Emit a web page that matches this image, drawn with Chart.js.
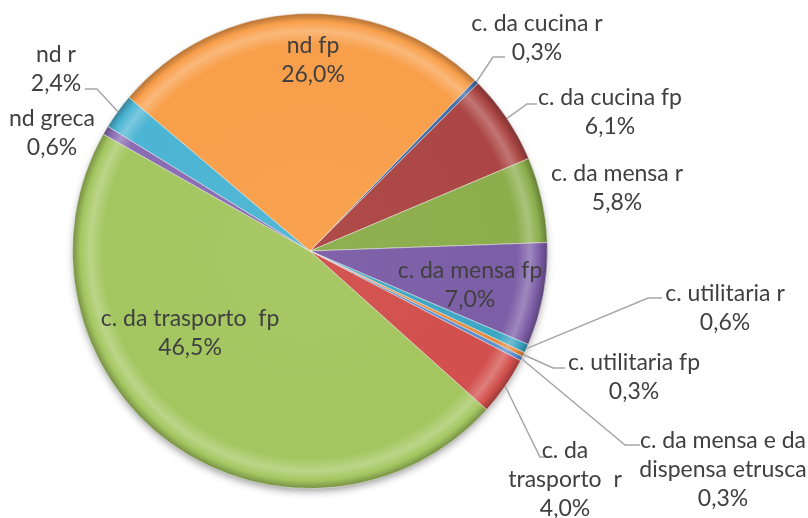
<!DOCTYPE html>
<html>
<head>
<meta charset="utf-8">
<script src="https://cdn.jsdelivr.net/npm/chart.js@4/dist/chart.umd.min.js"></script>
<style>
  html, body { margin: 0; padding: 0; background: #ffffff; }
  #wrap { width: 808px; height: 518px; position: relative; }
</style>
</head>
<body>
<div id="wrap"><canvas id="c" width="808" height="518"></canvas></div>
<script>
// Categories and shares (percent) of the sample, clockwise from the first slice
const categories = [
  'c. da cucina r',
  'c. da cucina fp',
  'c. da mensa r',
  'c. da mensa fp',
  'c. utilitaria r',
  'c. utilitaria fp',
  'c. da mensa e da dispensa etrusca',
  'c. da trasporto  r',
  'c. da trasporto  fp',
  'nd greca',
  'nd r',
  'nd fp'
];
const shares = [0.3, 6.1, 5.8, 7.0, 0.6, 0.3, 0.3, 4.0, 46.5, 0.6, 2.4, 26.0];

// Office-style fill colours for each slice
const sliceColors = [
  '#3f6fae', '#ab4644', '#8cae4c', '#7c5ea6', '#3ea7c4', '#e88a3c',
  '#5b8ccc', '#d2504d', '#a4c660', '#8a6cb3', '#4cb5d3', '#f89f4b'
];

// Where each data label sits, as offsets from the pie centre (px),
// with an optional leader line (bend and end points, also offsets).
const labelLayout = [
  { dx: 227, dy: -213, leader: [[183, -194], [195, -194]] },
  { dx: 300, dy: -139, leader: [[217, -147], [227, -147]] },
  { dx: 307, dy: -63 },
  { dx: 160, dy: 34 },
  { dx: 415, dy: 57, leader: [[338, 47], [352, 47]] },
  { dx: 324, dy: 126, leader: [[243, 117], [255, 117]] },
  { dx: 413, dy: 219, wrap: 200, leader: [[315, 194], [330, 194]] },
  { dx: 255, dy: 229, wrap: 135, leader: [[230, 206], [243, 206]] },
  { dx: -120, dy: 82 },
  { dx: -258, dy: -118 },
  { dx: -254, dy: -182, leader: [[-213, -162], [-225, -162]] },
  { dx: 3, dy: -191 }
];

const FONT = '23px Lato, "Liberation Sans", sans-serif';
const LINE_H = 29;

function formatPct(v) {
  return v.toFixed(1).replace('.', ',') + '%';
}

function shade(hex, amt) {
  const n = parseInt(hex.slice(1), 16);
  let r = (n >> 16) & 255, g = (n >> 8) & 255, b = n & 255;
  const t = amt < 0 ? 0 : 255, p = Math.abs(amt);
  r = Math.round(r + (t - r) * p);
  g = Math.round(g + (t - g) * p);
  b = Math.round(b + (t - b) * p);
  return `rgb(${r},${g},${b})`;
}

// Radial gradient per slice giving a soft bevelled rim
function bevelFill(context) {
  const chart = context.chart;
  const base = sliceColors[context.dataIndex];
  const area = chart.chartArea;
  if (!area) return base;
  const x = (area.left + area.right) / 2;
  const y = (area.top + area.bottom) / 2;
  const r = Math.min(area.right - area.left, area.bottom - area.top) / 2;
  const g = chart.ctx.createRadialGradient(x, y, 0, x, y, r);
  g.addColorStop(0, shade(base, 0.03));
  g.addColorStop(0.87, base);
  g.addColorStop(0.925, shade(base, 0.26));
  g.addColorStop(0.965, base);
  g.addColorStop(1, shade(base, -0.3));
  return g;
}

function wrapLines(ctx, text, maxW) {
  if (!maxW) return [text];
  const words = text.split(' ');
  const lines = [];
  let cur = '';
  words.forEach((w, i) => {
    const cand = i === 0 ? w : cur + ' ' + w;
    if (cur && w && ctx.measureText(cand).width > maxW) {
      lines.push(cur);
      cur = w;
    } else {
      cur = cand;
    }
  });
  lines.push(cur);
  return lines;
}

// Soft drop shadow beneath the pie
const pieShadow = {
  id: 'pieShadow',
  beforeDatasetsDraw(chart) {
    const arc = chart.getDatasetMeta(0).data[0];
    if (!arc) return;
    const ctx = chart.ctx;
    ctx.save();
    ctx.shadowColor = 'rgba(0,0,0,0.45)';
    ctx.shadowBlur = 9;
    ctx.shadowOffsetY = 4;
    ctx.fillStyle = '#7f7f7f';
    ctx.beginPath();
    ctx.arc(arc.x, arc.y, arc.outerRadius - 2, 0, Math.PI * 2);
    ctx.fill();
    ctx.restore();
  }
};

// Category and percentage labels with leader lines
const pieLabels = {
  id: 'pieLabels',
  afterDatasetsDraw(chart) {
    const ctx = chart.ctx;
    const meta = chart.getDatasetMeta(0);
    ctx.save();
    ctx.font = FONT;
    meta.data.forEach((arc, i) => {
      const lay = labelLayout[i];
      const cx = arc.x, cy = arc.y;
      if (lay.leader) {
        const mid = (arc.startAngle + arc.endAngle) / 2;
        const ax = cx + Math.cos(mid) * arc.outerRadius;
        const ay = cy + Math.sin(mid) * arc.outerRadius;
        ctx.strokeStyle = '#a6a6a6';
        ctx.lineWidth = 1.5;
        ctx.beginPath();
        ctx.moveTo(ax, ay);
        lay.leader.forEach(p => ctx.lineTo(cx + p[0], cy + p[1]));
        ctx.stroke();
      }
      const lines = wrapLines(ctx, categories[i], lay.wrap);
      lines.push(formatPct(shares[i]));
      ctx.fillStyle = '#404040';
      ctx.textAlign = 'center';
      ctx.textBaseline = 'middle';
      const top = cy + lay.dy - (lines.length - 1) * LINE_H / 2;
      lines.forEach((t, k) => ctx.fillText(t, cx + lay.dx, top + k * LINE_H));
    });
    ctx.restore();
  }
};

new Chart(document.getElementById('c'), {
  type: 'pie',
  data: {
    labels: categories,
    datasets: [{
      data: shares,
      backgroundColor: bevelFill,
      borderColor: 'rgba(255,255,255,0.45)',
      borderWidth: 1
    }]
  },
  options: {
    responsive: false,
    animation: false,
    rotation: 44,
    layout: { padding: { left: 72, right: 260, top: 13, bottom: 29 } },
    plugins: {
      legend: { display: false },
      tooltip: { enabled: false }
    }
  },
  plugins: [pieShadow, pieLabels]
});
</script>
</body>
</html>
